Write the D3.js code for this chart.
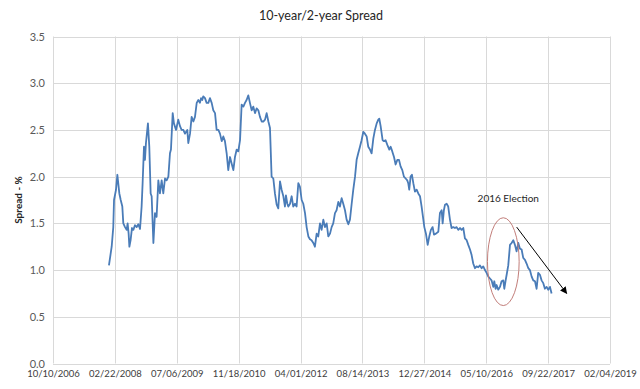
<!DOCTYPE html>
<html>
<head>
<meta charset="utf-8">
<script src="https://cdn.jsdelivr.net/npm/d3@7"></script>
<style>
  html, body { margin: 0; padding: 0; background: #ffffff; }
  svg { display: block; }
</style>
</head>
<body>
<svg id="chart" width="640" height="389"></svg>
<script>
// ---- Data (dates in ISO 8601 ordinal form YYYY-DDD) ----
const dates = [
"2008-005","2008-027","2008-040","2008-046","2008-062","2008-073","2008-089","2008-100","2008-113","2008-121",
"2008-135","2008-148","2008-156","2008-164","2008-170","2008-180","2008-191","2008-202","2008-215","2008-229",
"2008-242","2008-256","2008-269","2008-277","2008-288","2008-296","2008-304","2008-320","2008-331","2008-342",
"2008-350","2008-364","2009-011","2009-024","2009-038","2009-051","2009-065","2009-078","2009-092","2009-105",
"2009-119","2009-132","2009-140","2009-154","2009-164","2009-181","2009-199","2009-213","2009-226","2009-240",
"2009-253","2009-272","2009-280","2009-294","2009-307","2009-321","2009-334","2009-348","2009-361","2010-009",
"2010-018","2010-028","2010-036","2010-050","2010-063","2010-077","2010-090","2010-104","2010-117","2010-131",
"2010-144","2010-158","2010-171","2010-185","2010-198","2010-211","2010-225","2010-238","2010-252","2010-265",
"2010-279","2010-292","2010-306","2010-319","2010-333","2010-346","2010-360","2011-008","2011-021","2011-035",
"2011-048","2011-062","2011-075","2011-089","2011-102","2011-116","2011-129","2011-143","2011-156","2011-170",
"2011-183","2011-197","2011-210","2011-223","2011-237","2011-250","2011-264","2011-277","2011-291","2011-304",
"2011-318","2011-331","2011-339","2011-350","2011-358","2012-007","2012-020","2012-033","2012-047","2012-060",
"2012-074","2012-087","2012-101","2012-114","2012-128","2012-141","2012-155","2012-168","2012-181","2012-195",
"2012-208","2012-222","2012-235","2012-249","2012-262","2012-276","2012-289","2012-303","2012-316","2012-330",
"2012-343","2012-356","2013-004","2013-017","2013-031","2013-044","2013-058","2013-071","2013-085","2013-098",
"2013-112","2013-125","2013-139","2013-152","2013-166","2013-179","2013-192","2013-206","2013-219","2013-233",
"2013-246","2013-260","2013-273","2013-287","2013-300","2013-314","2013-327","2013-341","2013-354","2013-362",
"2014-008","2014-024","2014-035","2014-048","2014-062","2014-078","2014-089","2014-102","2014-116","2014-129",
"2014-143","2014-156","2014-169","2014-183","2014-196","2014-210","2014-223","2014-231","2014-239","2014-250",
"2014-261","2014-272","2014-285","2014-299","2014-312","2014-326","2014-339","2014-353","2014-361","2015-009",
"2015-023","2015-036","2015-049","2015-063","2015-074","2015-090","2015-109","2015-122","2015-136","2015-144",
"2015-154","2015-163","2015-176","2015-189","2015-203","2015-216","2015-230","2015-243","2015-257","2015-270",
"2015-284","2015-297","2015-311","2015-324","2015-338","2015-351","2015-365","2016-013","2016-026","2016-040",
"2016-053","2016-067","2016-080","2016-094","2016-107","2016-121","2016-134","2016-148","2016-161","2016-174",
"2016-188","2016-196","2016-207","2016-215","2016-228","2016-242","2016-255","2016-269","2016-277","2016-288",
"2016-296","2016-309","2016-323","2016-336","2016-350","2016-363","2017-010","2017-024","2017-037","2017-051",
"2017-064","2017-078","2017-091","2017-105","2017-118","2017-132","2017-145","2017-159","2017-172","2017-185",
"2017-199","2017-212","2017-226","2017-239","2017-253","2017-266","2017-280","2017-293"
];
const spread = [
1.05,1.25,1.46,1.75,1.86,2.02,1.82,1.75,1.68,1.50,
1.46,1.43,1.50,1.39,1.25,1.32,1.45,1.43,1.48,1.46,
1.49,1.44,1.68,1.93,2.32,2.18,2.36,2.57,2.32,1.82,
1.79,1.29,1.61,1.57,1.96,1.82,1.96,1.82,1.98,1.96,
2.00,2.25,2.29,2.68,2.57,2.50,2.61,2.54,2.50,2.50,
2.46,2.50,2.36,2.46,2.64,2.59,2.64,2.79,2.82,2.79,
2.84,2.82,2.86,2.84,2.79,2.79,2.84,2.79,2.71,2.68,
2.50,2.50,2.46,2.38,2.43,2.38,2.25,2.07,2.21,2.14,
2.07,2.21,2.29,2.27,2.39,2.77,2.75,2.79,2.82,2.87,
2.79,2.71,2.75,2.68,2.73,2.71,2.64,2.59,2.59,2.61,
2.68,2.59,2.52,2.00,1.98,1.82,1.70,1.66,1.95,1.86,
1.79,1.68,1.80,1.71,1.68,1.71,1.79,1.68,1.71,1.68,
1.93,1.89,1.75,1.71,1.61,1.46,1.36,1.33,1.32,1.29,
1.25,1.39,1.36,1.50,1.43,1.54,1.46,1.50,1.36,1.39,
1.46,1.50,1.61,1.64,1.73,1.68,1.77,1.71,1.64,1.54,
1.49,1.54,1.71,1.86,2.00,2.18,2.25,2.32,2.39,2.48,
2.46,2.43,2.32,2.29,2.25,2.41,2.50,2.57,2.61,2.62,
2.54,2.39,2.38,2.39,2.34,2.29,2.32,2.27,2.21,2.13,
2.18,2.18,2.11,2.07,2.00,1.98,1.96,1.93,1.86,2.00,
2.02,1.93,1.84,1.86,1.82,1.79,1.68,1.54,1.46,1.39,
1.27,1.36,1.43,1.46,1.38,1.39,1.41,1.61,1.64,1.50,
1.64,1.70,1.71,1.68,1.54,1.45,1.46,1.45,1.46,1.43,
1.45,1.43,1.45,1.34,1.32,1.27,1.22,1.16,1.07,1.02,
1.04,1.03,1.05,1.02,1.04,1.00,0.97,0.93,0.91,0.89,
0.82,0.88,0.80,0.84,0.79,0.82,0.88,0.89,0.80,0.89,
0.95,1.05,1.27,1.29,1.32,1.27,1.20,1.29,1.23,1.22,
1.13,1.11,1.07,1.02,1.00,0.93,0.89,0.88,0.80,0.97,
0.95,0.89,0.86,0.80,0.82,0.79,0.82,0.75
];
const xTickLabels = ["10/10/2006","02/22/2008","07/06/2009","11/18/2010","04/01/2012",
                     "08/14/2013","12/27/2014","05/10/2016","09/22/2017","02/04/2019"];
const yTickValues = [0, 0.5, 1.0, 1.5, 2.0, 2.5, 3.0, 3.5];
const chartTitle = "10-year/2-year Spread";
const yAxisTitle = "Spread - %";
const annotationText = "2016 Election";
// annotation anchors in data space
const annotationLabelAt = ["2016-309", 1.77];
const ellipseCenter = ["2016-269", 1.09];
const arrowFrom = ["2017-011", 1.46];
const arrowTo = ["2018-050", 0.75];

// ---- Drawing ----
const parseOrd = d3.timeParse("%Y-%j");
const parseMDY = d3.timeParse("%m/%d/%Y");
const series = dates.map((d, i) => ({ date: parseOrd(d), value: spread[i] }));
const tickDates = xTickLabels.map(parseMDY);

const margin = { left: 53, right: 30, top: 36.5, bottom: 25.5 };
const W = 640, H = 389;
const x = d3.scaleTime()
  .domain([tickDates[0], tickDates[tickDates.length - 1]])
  .range([margin.left, W - margin.right]);
const y = d3.scaleLinear()
  .domain([0, 3.5])
  .range([H - margin.bottom, margin.top]);

const svg = d3.select("#chart");
const font = "Lato, 'Open Sans', sans-serif";

// gridlines
const grid = svg.append("g").attr("class", "grid");
grid.selectAll("line.h").data(yTickValues).join("line")
  .attr("class", "h")
  .attr("x1", x.range()[0]).attr("x2", x.range()[1])
  .attr("y1", d => Math.round(y(d)) + 0.5).attr("y2", d => Math.round(y(d)) + 0.5)
  .attr("stroke", "#d9d9d9").attr("stroke-width", 1);
grid.selectAll("line.v").data(tickDates).join("line")
  .attr("class", "v")
  .attr("x1", d => Math.round(x(d)) + 0.5).attr("x2", d => Math.round(x(d)) + 0.5)
  .attr("y1", y.range()[1]).attr("y2", y.range()[0])
  .attr("stroke", "#d9d9d9").attr("stroke-width", 1);

// y axis labels
const yAxis = d3.axisLeft(y).tickValues(yTickValues).tickFormat(d3.format(".1f")).tickSize(0).tickPadding(0);
const gy = svg.append("g").attr("transform", `translate(${margin.left - 8},0)`).call(yAxis);
gy.select(".domain").remove();
gy.selectAll("text").attr("font-family", font).attr("font-size", 11).attr("fill", "#595959");

// x axis labels
const xAxis = d3.axisBottom(x).tickValues(tickDates).tickFormat(d3.timeFormat("%m/%d/%Y")).tickSize(0).tickPadding(0);
const gx = svg.append("g").attr("transform", `translate(0,${H - margin.bottom + 7})`).call(xAxis);
gx.select(".domain").remove();
gx.selectAll("text").attr("font-family", font).attr("font-size", 9.5).attr("fill", "#404040");

// line
const line = d3.line().x(d => x(d.date)).y(d => y(d.value));
svg.append("path").datum(series)
  .attr("d", line)
  .attr("fill", "none")
  .attr("stroke", "#4a7cb8")
  .attr("stroke-width", 1.8)
  .attr("stroke-linejoin", "round");

// title
svg.append("text").attr("x", 321).attr("y", 20)
  .attr("text-anchor", "middle")
  .attr("font-family", font).attr("font-size", 12.5).attr("fill", "#262626")
  .text(chartTitle);

// y axis title
svg.append("text")
  .attr("transform", `translate(22,${(y(1.75)).toFixed(1)}) rotate(-90)`)
  .attr("text-anchor", "middle")
  .attr("font-family", font).attr("font-size", 10).attr("font-weight", "bold").attr("fill", "#262626")
  .text(yAxisTitle);

// annotation
const lblDate = parseOrd(annotationLabelAt[0]);
svg.append("text")
  .attr("x", x(lblDate)).attr("y", y(annotationLabelAt[1]) + 4)
  .attr("text-anchor", "middle")
  .attr("font-family", font).attr("font-size", 10).attr("fill", "#262626")
  .text(annotationText);

const ec = parseOrd(ellipseCenter[0]);
svg.append("ellipse")
  .attr("cx", x(ec)).attr("cy", y(ellipseCenter[1]))
  .attr("rx", x(d3.timeDay.offset(ec, 128)) - x(ec))
  .attr("ry", y(0) - y(0.47))
  .attr("fill", "none").attr("stroke", "#c27e7a").attr("stroke-width", 1);

svg.append("defs").append("marker")
  .attr("id", "arrowhead").attr("viewBox", "0 0 10 10")
  .attr("refX", 9).attr("refY", 5)
  .attr("markerWidth", 7).attr("markerHeight", 7)
  .attr("orient", "auto")
  .append("path").attr("d", "M0,0 L10,5 L0,10 z").attr("fill", "#000");

svg.append("line")
  .attr("x1", x(parseOrd(arrowFrom[0]))).attr("y1", y(arrowFrom[1]))
  .attr("x2", x(parseOrd(arrowTo[0]))).attr("y2", y(arrowTo[1]))
  .attr("stroke", "#000").attr("stroke-width", 1)
  .attr("marker-end", "url(#arrowhead)");
</script>
</body>
</html>
